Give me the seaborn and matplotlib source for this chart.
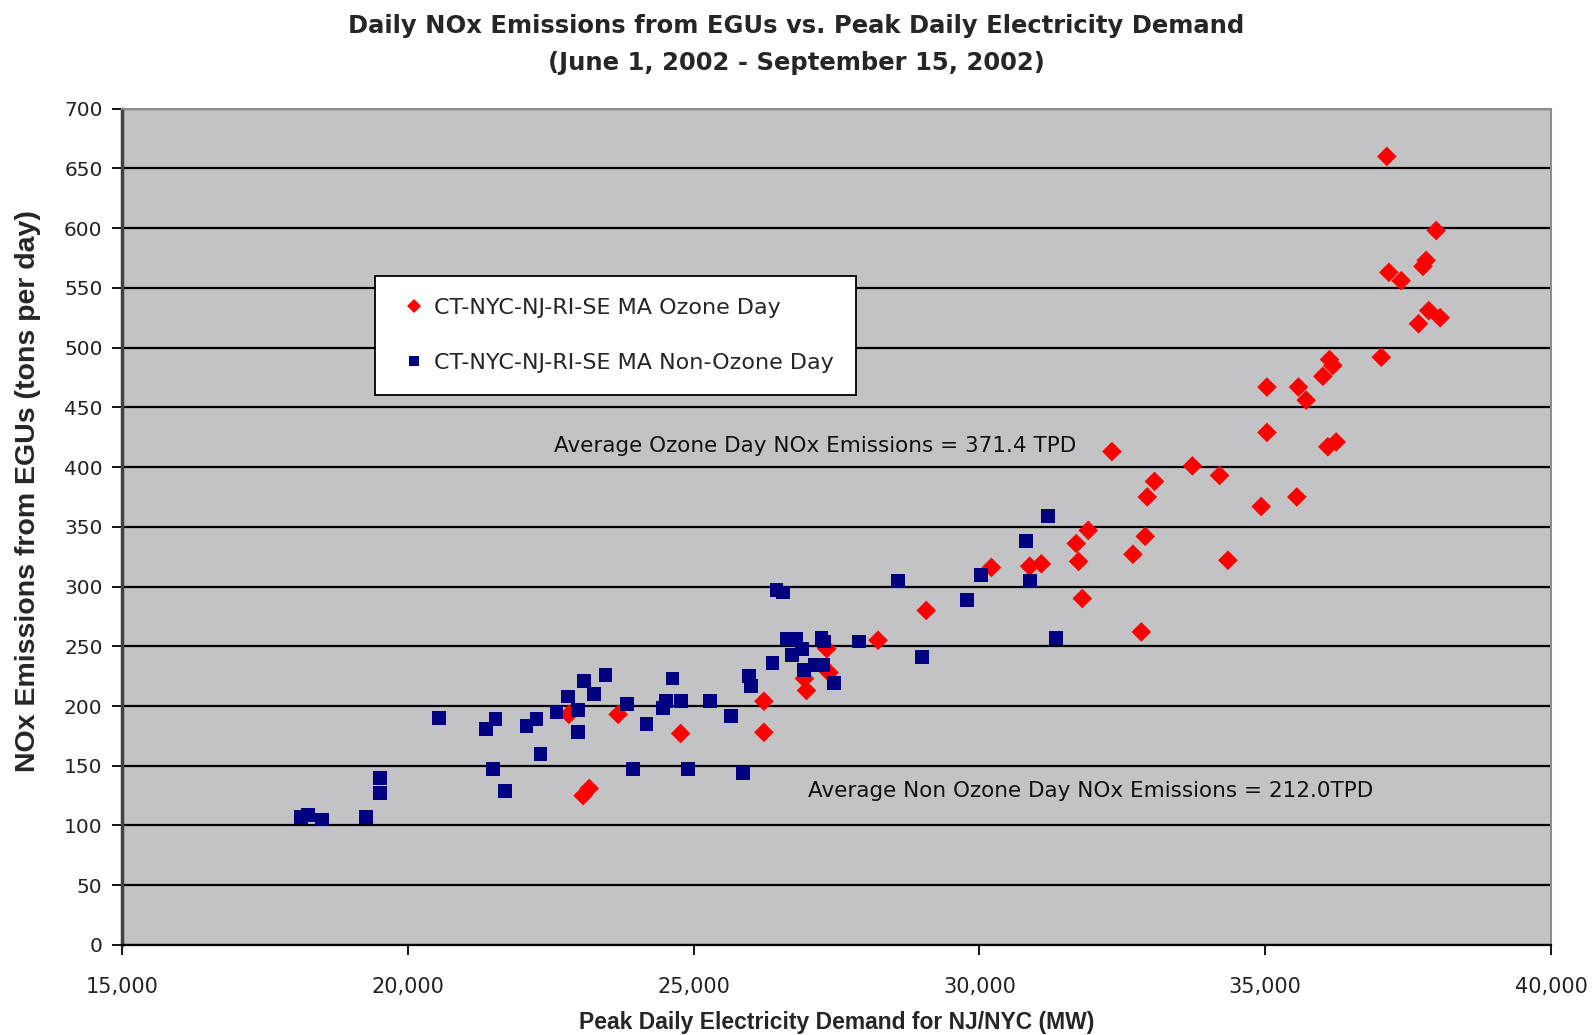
import matplotlib
matplotlib.use("Agg")
import matplotlib.pyplot as plt
import seaborn as sns
import pandas as pd
import numpy as np
from matplotlib.ticker import FuncFormatter, MultipleLocator

ozone_x = [22818, 23680, 24773, 23067, 23174, 26230, 26230, 26940, 26975, 27330,
           27370, 28228, 29070, 30210, 30880, 31084, 31736, 31800, 31695, 31905,
           32687, 32902, 32937, 33064, 32833, 32319, 33727, 34202, 34348, 34931,
           35554, 35031, 36096, 36242, 35031, 35583, 35718, 36010, 36126, 36184,
           37032, 37683, 37862, 38062, 37165, 37380, 37760, 37817, 37992, 37129]
ozone_y = [193, 193, 177, 125, 131, 204, 178, 223, 213, 248,
           228, 255, 280, 316, 317, 319, 321, 290, 336, 347,
           327, 342, 375, 388, 262, 413, 401, 393, 322, 367,
           375, 429, 417, 421, 467, 467, 456, 476, 490, 485,
           492, 520, 531, 525, 563, 556, 568, 573, 598, 660]

non_x = [18127, 18260, 18502, 19261, 19506, 19506, 20538, 21361, 21535, 21492,
         21704, 22077, 22252, 22322, 22601, 22805, 22980, 22980, 23079, 23254,
         23458, 23836, 23941, 24176, 24457, 24525, 24631, 24773, 24904, 25283,
         25650, 25865, 25970, 26000, 26380, 26450, 26565, 26635, 26798, 26904,
         26729, 26927, 27120, 27265, 27237, 27276, 27452, 27895, 28582, 28996,
         29786, 30032, 30880, 30821, 31198, 31335]
non_y = [107, 109, 105, 107, 140, 127, 190, 181, 189, 147,
         129, 183, 189, 160, 195, 208, 197, 178, 221, 210,
         226, 202, 147, 185, 198, 204, 223, 204, 147, 204,
         192, 144, 225, 217, 236, 297, 295, 256, 256, 248,
         243, 230, 234, 234, 257, 254, 219, 254, 305, 241,
         289, 310, 305, 338, 359, 257]

series_names = ["CT-NYC-NJ-RI-SE MA Ozone Day", "CT-NYC-NJ-RI-SE MA Non-Ozone Day"]
title_text = "Daily NOx Emissions from EGUs vs. Peak Daily Electricity Demand\n(June 1, 2002 - September 15, 2002)"
xlabel_text = "Peak Daily Electricity Demand for NJ/NYC (MW)"
ylabel_text = "NOx Emissions from EGUs (tons per day)"
note_ozone = "Average Ozone Day NOx Emissions = 371.4 TPD"
note_non = "Average Non Ozone Day NOx Emissions = 212.0TPD"

df = pd.concat([
    pd.DataFrame({"x": ozone_x, "y": ozone_y, "series": series_names[0]}),
    pd.DataFrame({"x": non_x, "y": non_y, "series": series_names[1]}),
], ignore_index=True)

sns.set_style("white")
plt.rcParams["font.family"] = ["DejaVu Sans"]

fig = plt.figure(figsize=(15.93, 10.35), dpi=100)
ax = fig.add_axes([0.0766, 0.087, 0.8970, 0.808])
ax.set_facecolor("#C3C2C5")

sns.scatterplot(data=df, x="x", y="y", hue="series", style="series",
                palette={series_names[0]: "#FF0000", series_names[1]: "#000080"},
                markers={series_names[0]: "D", series_names[1]: "s"},
                s=100, linewidth=0, ax=ax, zorder=3,
                hue_order=series_names, style_order=series_names)

ax.set_xlim(15000, 40000)
ax.set_ylim(0, 700)
ax.xaxis.set_major_locator(MultipleLocator(5000))
ax.yaxis.set_major_locator(MultipleLocator(50))
ax.xaxis.set_major_formatter(FuncFormatter(lambda v, p: f"{int(v):,}"))
ax.yaxis.set_major_formatter(FuncFormatter(lambda v, p: f"{int(v)}"))
ax.yaxis.grid(True, color="black", linewidth=1.6, zorder=1)
ax.set_axisbelow(True)

for side in ["top", "right"]:
    ax.spines[side].set_color("#8C8C8C")
    ax.spines[side].set_linewidth(1.5)
ax.spines["left"].set_color("#404040")
ax.spines["left"].set_linewidth(2.5)
ax.spines["bottom"].set_color("black")
ax.spines["bottom"].set_linewidth(1.6)

ax.tick_params(axis="both", direction="out", length=7, width=1.3, color="black",
               labelcolor="#222222", left=True, bottom=True)
ax.tick_params(axis="x", pad=16, labelsize=15)
ax.tick_params(axis="y", pad=7, labelsize=14.5)

ax.set_xlabel(xlabel_text, fontsize=16.5, fontweight="bold", family="Liberation Sans", labelpad=10)
ax.set_ylabel(ylabel_text, fontsize=20.5, fontweight="bold", family="Liberation Sans")
ax.yaxis.set_label_coords(-0.0567, 0.543)
fig.suptitle(title_text, fontsize=17.5, fontweight="bold", family="DejaVu Sans",
             y=0.986, linespacing=1.65)

ax.text(22552, 418, note_ozone, fontsize=15.5, va="center", ha="left", color="#111111")
ax.text(26994, 129, note_non, fontsize=15.5, va="center", ha="left", color="#111111")

h, l = ax.get_legend_handles_labels()
leg = ax.legend(h, l, loc="upper left", bbox_to_anchor=(0.177, 0.80), fontsize=16,
                frameon=True, fancybox=False, edgecolor="black", facecolor="white",
                framealpha=1, borderpad=1.0, labelspacing=1.55, handletextpad=0.15,
                markerscale=0.75, handlelength=1.5, borderaxespad=0)
leg.get_frame().set_linewidth(1.3)

fig.savefig("out.png", dpi=100, facecolor="white")
